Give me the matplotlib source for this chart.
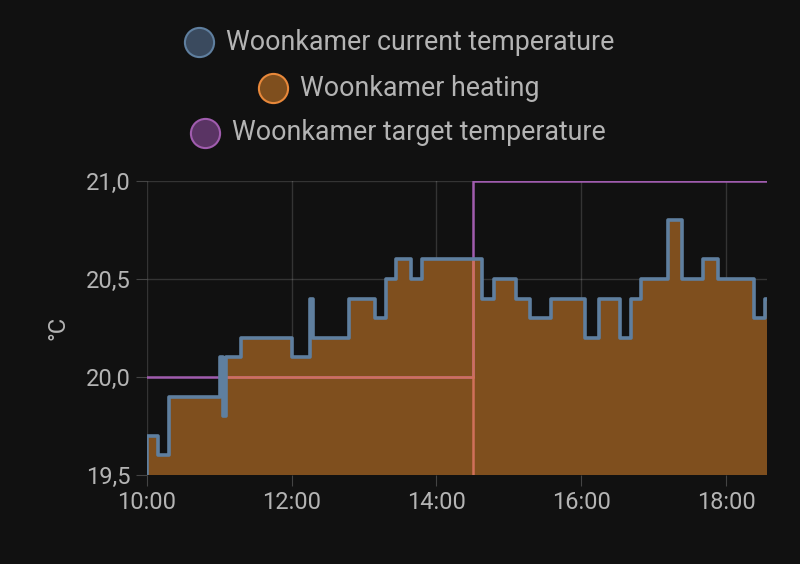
import matplotlib
matplotlib.use("Agg")
import matplotlib.pyplot as plt
from matplotlib.lines import Line2D

# minutes since 10:00
cur_t = [0, 9.3, 18.4, 60.3, 62.6, 65.3, 77.7, 120.4, 135.3, 138.0, 167.8, 189.3,
         198.1, 206.4, 218.8, 227.9, 277.9, 287.6, 305.5, 317.9, 335.3, 362.8,
         374.4, 392.3, 401.4, 409.7, 431.7, 443.2, 461.2, 473.6, 503.3, 512.1]
cur_v = [19.7, 19.6, 19.9, 20.1, 19.8, 20.1, 20.2, 20.1, 20.4, 20.2, 20.4, 20.3,
         20.5, 20.6, 20.5, 20.6, 20.4, 20.5, 20.4, 20.3, 20.4, 20.2, 20.4, 20.2,
         20.4, 20.5, 20.8, 20.5, 20.6, 20.5, 20.3, 20.4]
tgt_t = [0, 270, 514]
tgt_v = [20.0, 21.0, 21.0]
x_end = 514
tick_min = [0, 120, 240, 360, 480]
tick_lbl = ["10:00", "12:00", "14:00", "16:00", "18:00"]
y_ticks = [19.5, 20.0, 20.5, 21.0]
y_lbl = ["19,5", "20,0", "20,5", "21,0"]
names = ["Woonkamer current temperature", "Woonkamer heating", "Woonkamer target temperature"]

BG = "#111111"
TXT = "#b4b4b4"
BLUE = "#5f7f9f"
ORANGE = "#e8883a"
FILL = "#7f4f1e"
PURPLE = "#a05cae"

plt.rcParams["font.family"] = "Roboto"
fig = plt.figure(figsize=(8, 5.64), dpi=100, facecolor=BG)
ax = fig.add_axes([147/800, 1-475/564, 620/800, 294/564], facecolor=BG)

tx = cur_t + [x_end]
ty = cur_v + [cur_v[-1]]
ax.fill_between(tx, 19.5, ty, step="post", color=FILL, lw=0, zorder=2)
ax.step(tgt_t, tgt_v, where="post", color=PURPLE, lw=1.8, zorder=3)
ax.step([0] + tx, [19.5] + ty, where="post", color=BLUE, lw=2.6, zorder=4)
# purple over orange area looks reddish
ax.plot([62.6, 270], [20.0, 20.0], color="#d0705a", lw=1.8, zorder=3.5)
ax.plot([270, 270], [19.5, 20.6], color="#d0705a", lw=1.8, zorder=3.5)

ax.set_xlim(0, x_end)
ax.set_ylim(19.5, 21.0)
ax.set_xticks(tick_min, tick_lbl)
ax.set_yticks(y_ticks, y_lbl)
ax.grid(color="#ffffff", alpha=0.15, lw=1)
ax.set_axisbelow(True)
for s in ax.spines.values():
    s.set_visible(False)
ax.tick_params(colors=TXT, labelsize=17, length=8, color="#444444")
ax.set_ylabel("°C", color=TXT, fontsize=17, labelpad=12)

leg = [(199, 42, BLUE, "#3a4a5e"), (273, 88, ORANGE, "#7f4f1e"), (205, 133, PURPLE, "#5a3464")]
for (cx, cy, ec, fc), name in zip(leg, names):
    fig.add_artist(Line2D([cx/800], [1-cy/564], marker="o", markersize=21, markerfacecolor=fc,
                          markeredgecolor=ec, markeredgewidth=1.5, transform=fig.transFigure))
    fig.text((cx+27)/800, 1-cy/564, name, color=TXT, fontsize=19.3, va="center", ha="left")

fig.savefig("out.png", dpi=100, facecolor=BG)
